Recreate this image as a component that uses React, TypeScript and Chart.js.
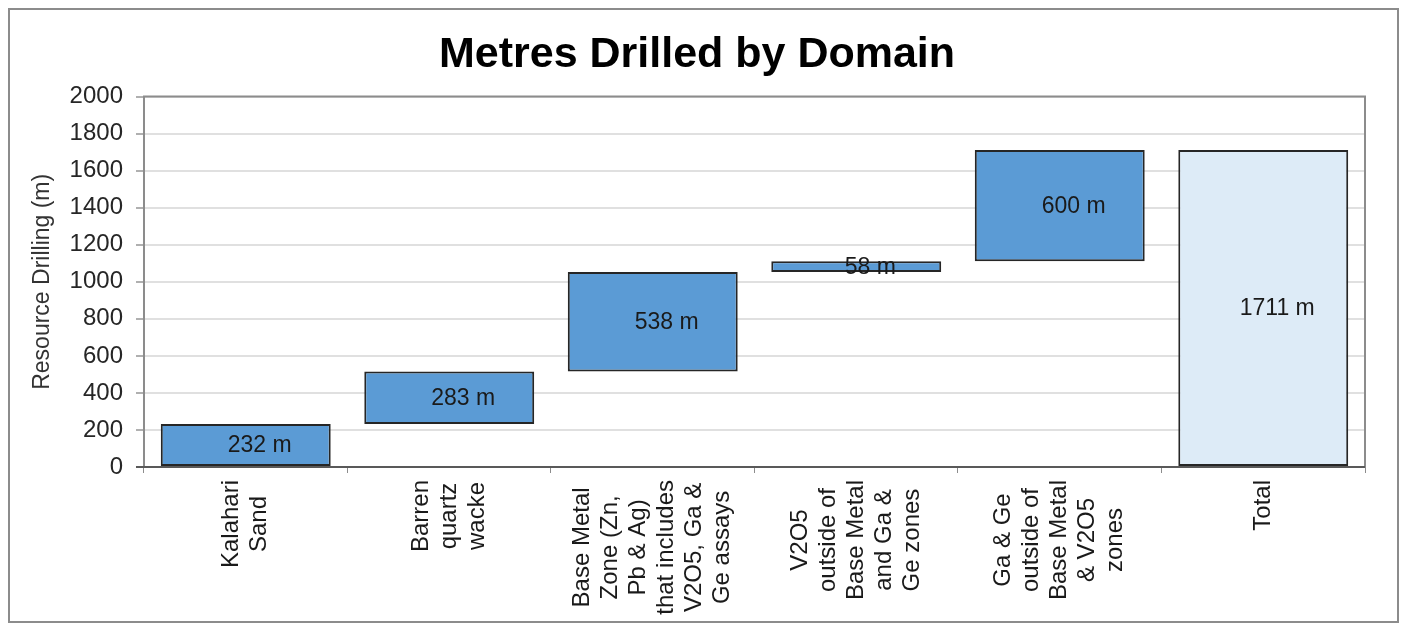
import React, { useEffect, useRef } from "react";
import { Chart, registerables } from "chart.js";

Chart.register(...registerables);

const categories: string[][] = [
  ["Kalahari", "Sand"],
  ["Barren", "quartz", "wacke"],
  ["Base Metal", "Zone (Zn,", "Pb & Ag)", "that includes", "V2O5, Ga &", "Ge assays"],
  ["V2O5", "outside of", "Base Metal", "and Ga &", "Ge zones"],
  ["Ga & Ge", "outside of", "Base Metal", "& V2O5", "zones"],
  ["Total"],
];
const increments = [232, 283, 538, 58, 600];
const totalValue = 1711;
const yTicks = [0, 200, 400, 600, 800, 1000, 1200, 1400, 1600, 1800, 2000];

const TITLE = "Metres Drilled by Domain";
const Y_TITLE = "Resource Drilling (m)";
const FONT = "'Liberation Sans', Arial, Helvetica, sans-serif";

const BAR_COLOR = "#5B9BD5";
const TOTAL_COLOR = "#DDEBF7";

function buildFloating(): [number, number][] {
  const out: [number, number][] = [];
  let acc = 0;
  for (const v of increments) {
    out.push([acc, acc + v]);
    acc += v;
  }
  out.push([0, totalValue]);
  return out;
}

const valueLabels = [...increments, totalValue];

const customPlugin = {
  id: "customWaterfall",
  beforeDatasetsDraw(chart: any) {
    const { ctx, chartArea } = chart;
    ctx.save();
    ctx.strokeStyle = "#8c8c8c";
    ctx.lineWidth = 2;
    ctx.beginPath();
    ctx.moveTo(chartArea.left, chartArea.bottom);
    ctx.lineTo(chartArea.left, chartArea.top);
    ctx.lineTo(chartArea.right, chartArea.top);
    ctx.lineTo(chartArea.right, chartArea.bottom);
    ctx.stroke();
    ctx.strokeStyle = "#595959";
    ctx.beginPath();
    ctx.moveTo(chartArea.left - 8, chartArea.bottom);
    ctx.lineTo(chartArea.right, chartArea.bottom);
    ctx.stroke();
    ctx.restore();
  },
  afterDatasetsDraw(chart: any) {
    const { ctx, chartArea, scales } = chart;
    const meta = chart.getDatasetMeta(0);
    ctx.save();
    ctx.font = `23px ${FONT}`;
    ctx.fillStyle = "#1a1a1a";
    ctx.textAlign = "center";
    ctx.textBaseline = "middle";
    meta.data.forEach((bar: any, i: number) => {
      const p = bar.getProps(["x", "y", "base"], true);
      const cy = (p.y + p.base) / 2;
      ctx.fillText(`${valueLabels[i]} m`, p.x + 14, cy + 1);
    });

    // category labels, rotated, lines centred on the longest line
    ctx.font = `24px ${FONT}`;
    ctx.fillStyle = "#1a1a1a";
    const lineH = 28;
    const top = chartArea.bottom + 13;
    categories.forEach((lines, i) => {
      const x = scales.x.getPixelForValue(i);
      const maxW = Math.max(...lines.map((l) => ctx.measureText(l).width));
      const cy = top + maxW / 2;
      const n = lines.length;
      lines.forEach((line, j) => {
        const lx = x + (j - (n - 1) / 2) * lineH;
        ctx.save();
        ctx.translate(lx, cy);
        ctx.rotate(-Math.PI / 2);
        ctx.textAlign = "center";
        ctx.textBaseline = "middle";
        ctx.fillText(line, 0, 0);
        ctx.restore();
      });
    });
    ctx.restore();
  },
};

export default function App() {
  const ref = useRef<HTMLCanvasElement | null>(null);

  useEffect(() => {
    if (!ref.current) return;
    Chart.defaults.font.family = FONT;
    const data = buildFloating();
    const colors = data.map((_, i) => (i === data.length - 1 ? TOTAL_COLOR : BAR_COLOR));
    const chart = new Chart(ref.current, {
      type: "bar",
      data: {
        labels: categories.map((c) => c.join(" ")),
        datasets: [
          {
            data: data as any,
            backgroundColor: colors,
            borderColor: "#262626",
            borderWidth: 2,
            borderSkipped: false,
            barPercentage: 0.835,
            categoryPercentage: 1,
          },
        ],
      },
      options: {
        responsive: false,
        animation: false,
        layout: { padding: { left: 19, right: 32, top: 0, bottom: 148 } },
        plugins: {
          legend: { display: false },
          tooltip: { enabled: false },
          title: {
            display: true,
            text: TITLE,
            color: "#000",
            font: { size: 43, weight: "bold", family: FONT },
            padding: { top: 19, bottom: 16 },
          },
        },
        scales: {
          x: {
            grid: {
              display: true,
              drawOnChartArea: false,
              drawTicks: true,
              tickLength: 6,
              color: "#8c8c8c",
              offset: true,
            },
            border: { display: false },
            ticks: { display: false },
          },
          y: {
            min: 0,
            max: 2000,
            afterBuildTicks: (scale: any) => {
              scale.ticks = yTicks.map((v) => ({ value: v }));
            },
            grid: {
              color: "#e0e0e0",
              lineWidth: 2,
              tickLength: 8,
              tickColor: "#b0b0b0",
            },
            border: { display: false },
            ticks: {
              font: { size: 24, family: FONT },
              color: "#262626",
              padding: 13,
              callback: (v: any) => String(v),
            },
            title: {
              display: true,
              text: Y_TITLE,
              color: "#333",
              font: { size: 23, family: FONT },
              padding: { top: 0, bottom: 0 },
            },
          },
        },
      },
      plugins: [customPlugin],
    });
    return () => chart.destroy();
  }, []);

  return (
    <div
      style={{
        position: "fixed",
        left: 8,
        top: 8,
        width: 1391,
        height: 615,
        border: "2px solid #8c8c8c",
        boxSizing: "border-box",
        background: "#fff",
      }}
    >
      <canvas ref={ref} width={1387} height={611} style={{ display: "block" }} />
    </div>
  );
}
